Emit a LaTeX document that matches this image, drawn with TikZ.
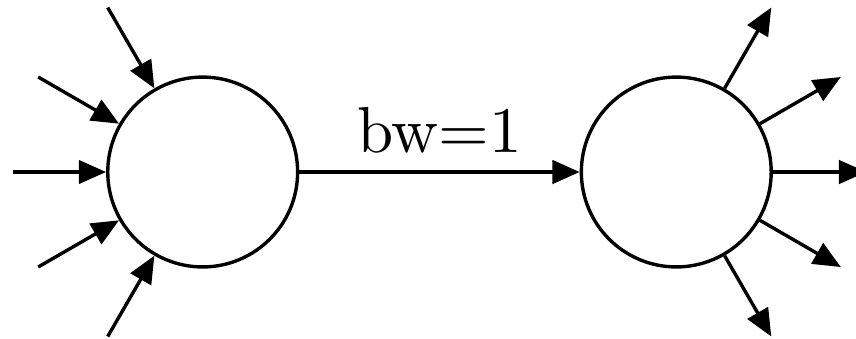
\documentclass[tikz,border=0pt]{standalone}
\usetikzlibrary{arrows.meta}
\begin{document}
\begin{tikzpicture}[x=0.1538pt,y=-0.1538pt,
  vert/.style={circle,draw,line width=0.52pt,minimum size=29.2pt,inner sep=0pt},
  conn/.style={line width=0.52pt,-{Triangle[length=4.2pt,width=3.6pt]}}]
\useasboundingbox (0,0) rectangle (856,338);
\clip (0,0) rectangle (856,338);
\node[vert] (L) at (202.7,172) {};
\node[vert] (R) at (676.3,172) {};
% incoming sources
\coordinate (i1) at (107.7,7.5);
\coordinate (i2) at (38.2,77);
\coordinate (i3) at (12.7,172);
\coordinate (i4) at (38.2,267);
\coordinate (i5) at (107.7,336.5);
% outgoing targets
\coordinate (o1) at (771.3,7.5);
\coordinate (o2) at (840.8,77);
\coordinate (o3) at (866.3,172);
\coordinate (o4) at (840.8,267);
\coordinate (o5) at (771.3,336.5);
\foreach \c in {i1,i2,i3,i4,i5}{\draw[conn] (\c) -- (L);}
\foreach \c in {o1,o2,o3,o4,o5}{\draw[conn] (R) -- (\c);}
\draw[conn] (L) -- node[above=2.6pt,inner sep=0pt] {bw=1} (R);
\end{tikzpicture}
\end{document}
